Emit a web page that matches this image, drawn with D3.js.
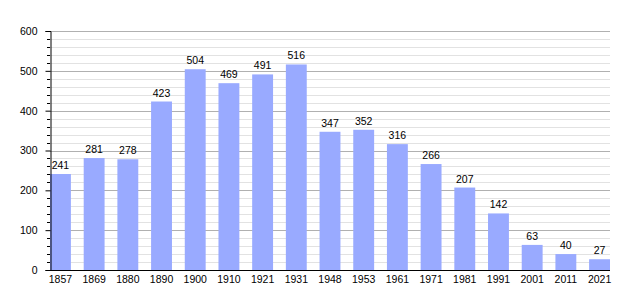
<!DOCTYPE html>
<html>
<head>
<meta charset="utf-8">
<script src="https://cdn.jsdelivr.net/npm/d3@7"></script>
<style>
  body { margin: 0; background: #fff; }
  text { font-family: "Liberation Sans", Arial, sans-serif; }
</style>
</head>
<body>
<div id="chart"></div>
<script>
var years = ["1857","1869","1880","1890","1900","1910","1921","1931","1948","1953","1961","1971","1981","1991","2001","2011","2021"];
var population = [241,281,278,423,504,469,491,516,347,352,316,266,207,142,63,40,27];
var yTicks = [0,100,200,300,400,500,600];

var width = 640, height = 300;
var margin = {top: 31, right: 30, bottom: 30, left: 50};
var fontSize = 10.5;

var svg = d3.select("#chart")
  .append("svg")
    .attr("width", width)
    .attr("height", height);

var x = d3.scaleBand()
  .domain(years)
  .range([margin.left, width - margin.right])
  .paddingInner(0.38)
  .paddingOuter(0);

var y = d3.scaleLinear()
  .domain([0, 600])
  .range([height - margin.bottom, margin.top]);

// minor grid every 20
var minor = d3.range(0, 601, 20).filter(function(d) { return d % 100 != 0; });
svg.append("g")
  .selectAll("line")
  .data(minor)
  .enter().append("line")
    .attr("x1", margin.left)
    .attr("x2", width - margin.right)
    .attr("y1", function(d) { return Math.round(y(d)) + 0.5; })
    .attr("y2", function(d) { return Math.round(y(d)) + 0.5; })
    .attr("stroke", "#e2e2e2")
    .attr("stroke-width", 1);

// major grid
svg.append("g")
  .selectAll("line")
  .data(yTicks.slice(1))
  .enter().append("line")
    .attr("x1", margin.left)
    .attr("x2", width - margin.right)
    .attr("y1", function(d) { return Math.round(y(d)) + 0.5; })
    .attr("y2", function(d) { return Math.round(y(d)) + 0.5; })
    .attr("stroke", "#b0b0b0")
    .attr("stroke-width", 1);

// bars
svg.append("g")
  .selectAll("rect")
  .data(population)
  .enter().append("rect")
    .attr("x", function(d, i) { return x(years[i]); })
    .attr("y", function(d) { return y(d); })
    .attr("width", x.bandwidth())
    .attr("height", function(d) { return y(0) - y(d); })
    .attr("fill", "#99aaff");

// value labels
svg.append("g")
  .selectAll("text")
  .data(population)
  .enter().append("text")
    .attr("x", function(d, i) { return x(years[i]) + x.bandwidth() / 2; })
    .attr("y", function(d) { return y(d) - 5; })
    .attr("text-anchor", "middle")
    .attr("font-size", fontSize)
    .attr("fill", "#000")
    .text(function(d) { return d; });

// y axis
var yAxis = svg.append("g")
  .attr("transform", "translate(" + (margin.left + 0.5) + ",0)")
  .call(d3.axisLeft(y).tickValues(yTicks).tickSize(5).tickPadding(8));
yAxis.select(".domain").attr("stroke", "#000");
yAxis.selectAll("text").attr("font-size", fontSize).attr("font-family", "Liberation Sans, Arial, sans-serif").attr("fill", "#000");

// minor ticks on y axis
svg.append("g")
  .selectAll("line")
  .data(minor)
  .enter().append("line")
    .attr("x1", margin.left - 3)
    .attr("x2", margin.left)
    .attr("y1", function(d) { return Math.round(y(d)) + 0.5; })
    .attr("y2", function(d) { return Math.round(y(d)) + 0.5; })
    .attr("stroke", "#000");

// x axis
var xAxis = svg.append("g")
  .attr("transform", "translate(0," + (y(0) + 0.5) + ")")
  .call(d3.axisBottom(x).tickSize(0).tickPadding(5));
xAxis.select(".domain").attr("stroke", "#000").attr("d", "M" + margin.left + ",0H" + (width - margin.right));
xAxis.selectAll("text").attr("font-size", fontSize).attr("font-family", "Liberation Sans, Arial, sans-serif").attr("fill", "#000");
</script>
</body>
</html>
